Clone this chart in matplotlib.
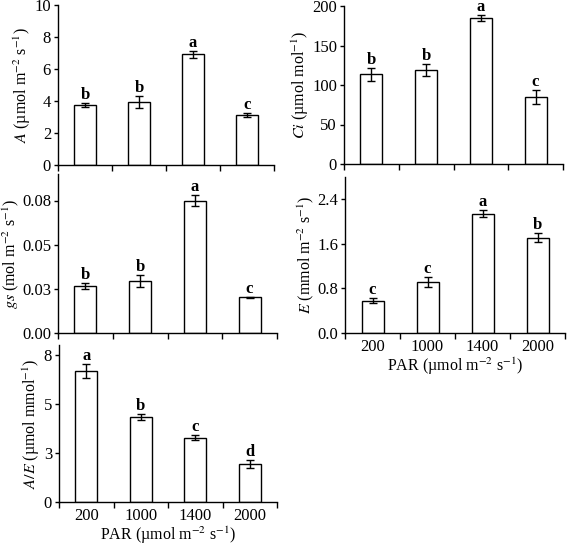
import matplotlib
matplotlib.use("Agg")
import matplotlib.pyplot as plt
import numpy as np
from matplotlib.ticker import FixedLocator, FixedFormatter

plt.rcParams['font.family'] = ['Liberation Serif', 'DejaVu Serif']
plt.rcParams['mathtext.fontset'] = 'stix'

categories = ['200', '1000', '1400', '2000']

A_vals = [3.75, 3.95, 6.92, 3.10]
A_err = [0.10, 0.38, 0.22, 0.12]
A_let = ['b', 'b', 'a', 'c']
A_ticks = [0, 2, 4, 6, 8, 10]
A_ticklabels = ['0', '2', '4', '6', '8', '10']

Ci_vals = [113.5, 119.5, 185.0, 85.0]
Ci_err = [8.0, 7.5, 3.5, 9.0]
Ci_let = ['b', 'b', 'a', 'c']
Ci_ticks = [0, 50, 100, 150, 200]
Ci_ticklabels = ['0', '50', '100', '150', '200']

gs_vals = [0.0265, 0.0293, 0.0750, 0.0202]
gs_err = [0.0016, 0.0034, 0.0030, 0.0003]
gs_let = ['b', 'b', 'a', 'c']
gs_ticks = [0, 0.025, 0.05, 0.075]
gs_ticklabels = ['0.00', '0.03', '0.05', '0.08']

E_vals = [0.58, 0.92, 2.14, 1.71]
E_err = [0.045, 0.09, 0.06, 0.08]
E_let = ['c', 'c', 'a', 'b']
E_ticks = [0, 0.8, 1.6, 2.4]
E_ticklabels = ['0.0', '0.8', '1.6', '2.4']

AE_vals = [6.67, 4.33, 3.28, 1.93]
AE_err = [0.34, 0.13, 0.11, 0.19]
AE_let = ['a', 'b', 'c', 'd']
AE_ticks = [0, 2.5, 5, 7.5]
AE_ticklabels = ['0', '3', '5', '8']

W, H = 567, 548
fig = plt.figure(figsize=(W / 100, H / 100), dpi=100)

def add_ax(l, r, t, b):
    return fig.add_axes([l / W, (H - b) / H, (r - l) / W, (b - t) / H])

panels = [
    ((58, 274, 5, 165), A_vals, A_err, A_let, 10, A_ticks, A_ticklabels,
     r'$\it{A}$ (µmol m$^{-2}$ s$^{-1}$)', False),
    ((344, 563, 6, 164), Ci_vals, Ci_err, Ci_let, 200, Ci_ticks, Ci_ticklabels,
     r'$\it{Ci}$ (µmol mol$^{-1}$)', False),
    ((58, 277, 174, 333), gs_vals, gs_err, gs_let, 0.09, gs_ticks, gs_ticklabels,
     r'$\it{gs}$ (mol m$^{-2}$ s$^{-1}$)', False),
    ((345, 565, 177, 333), E_vals, E_err, E_let, 2.8, E_ticks, E_ticklabels,
     r'$\it{E}$ (mmol m$^{-2}$ s$^{-1}$)', True),
    ((59, 277, 345, 502), AE_vals, AE_err, AE_let, 8, AE_ticks, AE_ticklabels,
     r'$\it{A/E}$ (µmol mmol$^{-1}$)', True),
]

x = np.arange(len(categories))
for box, vals, err, lets, ytop, yticks, yticklabels, ylabel, show_x in panels:
    ax = add_ax(*box)
    ax.bar(x, vals, width=0.4, color='white', edgecolor='black', linewidth=1.0, zorder=2)
    ax.errorbar(x, vals, yerr=err, fmt='none', ecolor='black', elinewidth=1.0,
                capsize=3, capthick=1.0, zorder=3)
    for xi, v, e, l in zip(x, vals, err, lets):
        ax.annotate(l, (xi, v + e), xytext=(0, 0), textcoords='offset points',
                    ha='center', va='bottom', fontsize=12, fontweight='bold',
                    annotation_clip=False)
    ax.set_xlim(-0.5, 3.5)
    ax.set_ylim(0, ytop)
    ax.spines['top'].set_visible(False)
    ax.spines['right'].set_visible(False)
    for s in ('left', 'bottom'):
        ax.spines[s].set_linewidth(1.0)
    ax.yaxis.set_major_locator(FixedLocator(yticks))
    ax.yaxis.set_major_formatter(FixedFormatter(yticklabels))
    ax.tick_params(axis='y', direction='out', length=3, width=1, labelsize=12, pad=2)
    ax.set_xticks(x)
    ax.set_xticks([-0.5, 0.5, 1.5, 2.5, 3.5], minor=True)
    ax.tick_params(axis='x', which='major', length=0, labelsize=12, pad=4)
    ax.tick_params(axis='x', which='minor', direction='out', length=4, width=1)
    if show_x:
        ax.set_xticklabels(categories)
        ax.set_xlabel(r'PAR (µmol m$^{-2}$ s$^{-1}$)', fontsize=11.5, labelpad=1)
    else:
        ax.set_xticklabels([])
    ax.set_ylabel(ylabel, fontsize=11.5, labelpad=1)

fig.savefig('out.png', dpi=100)
